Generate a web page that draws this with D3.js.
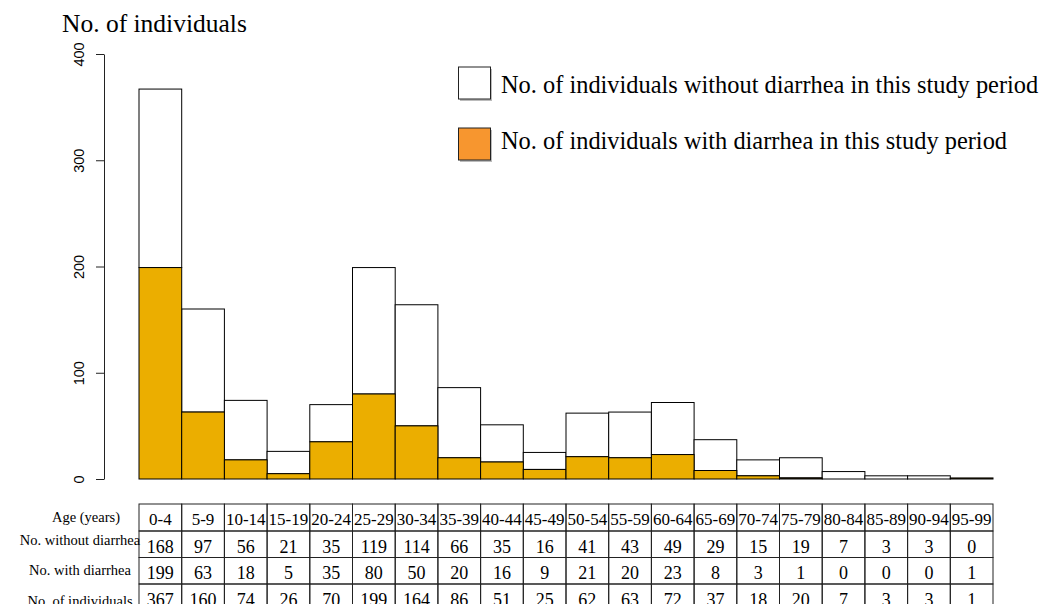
<!DOCTYPE html>
<html lang="en">
<head>
    <meta charset="UTF-8">
    <title>No. of individuals by age group</title>
    <script src="https://d3js.org/d3.v7.min.js"></script>
    <style>
        body { margin: 0; background: #fff; }
        svg text { font-family: "Liberation Serif", "Times New Roman", serif; }
        .axis text { font-family: "Liberation Sans", Arial, sans-serif; }
    </style>
</head>
<body>
    <svg id="chart" width="1040" height="604"></svg>

    <script>
        // Datos
        const ageGroups = ["0-4", "5-9", "10-14", "15-19", "20-24", "25-29", "30-34", "35-39", "40-44", "45-49",
                           "50-54", "55-59", "60-64", "65-69", "70-74", "75-79", "80-84", "85-89", "90-94", "95-99"];
        const withoutDiarrhea = [168, 97, 56, 21, 35, 119, 114, 66, 35, 16, 41, 43, 49, 29, 15, 19, 7, 3, 3, 0];
        const withDiarrhea = [199, 63, 18, 5, 35, 80, 50, 20, 16, 9, 21, 20, 23, 8, 3, 1, 0, 0, 0, 1];
        const totals = [367, 160, 74, 26, 70, 199, 164, 86, 51, 25, 62, 63, 72, 37, 18, 20, 7, 3, 3, 1];
        const yTicks = [0, 100, 200, 300, 400];
        const rowLabels = ["Age (years)", "No. without diarrhea", "No. with diarrhea", "No. of individuals"];
        const legendLabels = ["No. of individuals without diarrhea in this study period",
                              "No. of individuals with diarrhea in this study period"];

        const svg = d3.select("#chart");

        // Escalas
        const x = d3.scaleBand()
                    .domain(ageGroups)
                    .range([139, 993])
                    .padding(0);
        const y = d3.scaleLinear()
                    .domain([0, 400])
                    .range([479, 54]);

        // Eje Y
        const yAxis = svg.append("g")
           .attr("class", "axis")
           .attr("transform", "translate(104,0)")
           .call(d3.axisLeft(y).tickValues(yTicks).tickSize(8).tickSizeOuter(0));
        yAxis.select(".domain").attr("stroke", "#222");
        yAxis.selectAll(".tick line").attr("stroke", "#222");
        yAxis.selectAll(".tick text")
           .attr("x", null).attr("dy", null)
           .attr("transform", "translate(-20,0) rotate(-90)")
           .attr("text-anchor", "middle")
           .attr("font-size", "14.5px")
           .attr("fill", "#000");

        // Título
        svg.append("text")
           .attr("x", 62)
           .attr("y", 32)
           .attr("font-size", "25.5px")
           .text("No. of individuals");

        // Barras
        const bars = svg.append("g");
        bars.selectAll("rect.total")
           .data(ageGroups)
           .enter()
           .append("rect")
           .attr("class", "total")
           .attr("x", d => x(d))
           .attr("y", (d, i) => y(totals[i]))
           .attr("width", x.bandwidth())
           .attr("height", (d, i) => y(withDiarrhea[i]) - y(totals[i]))
           .attr("fill", "#fff")
           .attr("stroke", "#000");
        bars.selectAll("rect.with")
           .data(ageGroups)
           .enter()
           .append("rect")
           .attr("class", "with")
           .attr("x", d => x(d))
           .attr("y", (d, i) => y(withDiarrhea[i]))
           .attr("width", x.bandwidth())
           .attr("height", (d, i) => y(0) - y(withDiarrhea[i]))
           .attr("fill", "#ebae00")
           .attr("stroke", "#000");

        // Leyenda
        const legendColors = ["#ffffff", "#f7962f"];
        const legendTextY = [93, 149];
        const legend = svg.append("g");
        legendLabels.forEach((label, i) => {
            const ly = 67 + i * 61;
            legend.append("rect")
               .attr("x", 460).attr("y", ly + 2)
               .attr("width", 32).attr("height", 32)
               .attr("fill", "#bbb");
            legend.append("rect")
               .attr("x", 458.5).attr("y", ly)
               .attr("width", 32).attr("height", 32)
               .attr("fill", legendColors[i])
               .attr("stroke", "#222");
            legend.append("text")
               .attr("x", 501)
               .attr("y", legendTextY[i])
               .attr("font-size", "24.4px")
               .text(label);
        });

        // Tabla
        const rowTops = [504, 531, 557.5, 584];
        const rowHeight = 26.5;
        const rows = [ageGroups, withoutDiarrhea, withDiarrhea, totals];
        const table = svg.append("g");
        rows.forEach((values, r) => {
            table.selectAll(null)
               .data(ageGroups)
               .enter()
               .append("rect")
               .attr("x", d => x(d))
               .attr("y", rowTops[r])
               .attr("width", x.bandwidth())
               .attr("height", r === 0 ? 27 : rowHeight)
               .attr("fill", "none")
               .attr("stroke", "#222");
            table.selectAll(null)
               .data(ageGroups)
               .enter()
               .append("text")
               .attr("x", d => x(d) + x.bandwidth() / 2)
               .attr("y", rowTops[r] + (r === 0 ? 21 : 21.5))
               .attr("text-anchor", "middle")
               .attr("font-size", r === 0 ? "17px" : "18px")
               .text((d, i) => values[i]);
        });

        // Etiquetas de filas
        const labelY = [522, 545, 575, 606];
        rowLabels.forEach((label, r) => {
            svg.append("text")
               .attr("x", r === 0 ? 86 : 80)
               .attr("y", labelY[r])
               .attr("text-anchor", "middle")
               .attr("font-size", "14.5px")
               .text(label);
        });
    </script>
</body>
</html>
